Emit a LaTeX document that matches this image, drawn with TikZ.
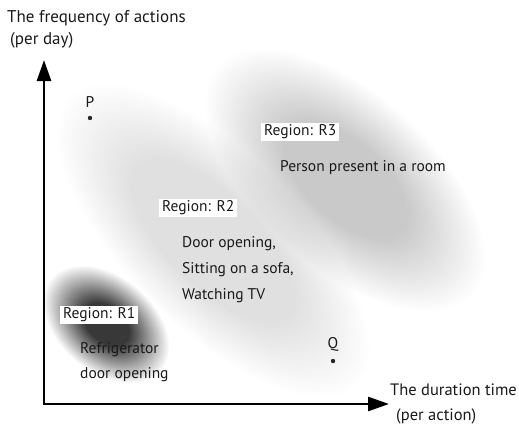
\documentclass[tikz,border=0pt]{standalone}
\usepackage{fontspec}
\setmainfont{PT Sans}
\usetikzlibrary{arrows.meta, positioning}

% colours of the blurred regions
\colorlet{blobone}{black!78}
\colorlet{blobtwo}{black!12}
\colorlet{blobthree}{black!21}
\pgfdeclareradialshading{shadeone}{\pgfpoint{0bp}{0bp}}{color(0bp)=(blobone); color(9bp)=(blobone); color(25bp)=(white); color(50bp)=(white)}
\pgfdeclareradialshading{shadetwo}{\pgfpoint{0bp}{0bp}}{color(0bp)=(blobtwo); color(13bp)=(blobtwo); color(25bp)=(white); color(50bp)=(white)}
\pgfdeclareradialshading{shadethree}{\pgfpoint{0bp}{0bp}}{color(0bp)=(blobthree); color(11bp)=(blobthree); color(25bp)=(white); color(50bp)=(white)}

\begin{document}
\begin{tikzpicture}[x=1pt, y=-1pt,
	lbl/.style={font=\fontsize{15.5}{18}\selectfont, text=black!90, inner sep=1pt},
	axlbl/.style={lbl, anchor=west, align=left, font=\fontsize{17}{22}\selectfont},
	region/.style={lbl, fill=white, inner xsep=3pt, inner ysep=2pt},
	>={Triangle[length=21pt,width=14pt]}]
	\useasboundingbox (0,0) rectangle (519,424);
	
	% Blurred regions
	\begin{scope}[transform canvas={shift={(213,240)}, rotate=-45}]
		\shade[shading=shadetwo, blend mode=multiply] (0,0) ellipse (205pt and 88pt);
	\end{scope}
	\begin{scope}[transform canvas={shift={(345,180)}, rotate=-42}]
		\shade[shading=shadethree, blend mode=multiply] (0,0) ellipse (172pt and 88pt);
	\end{scope}
	\begin{scope}[transform canvas={shift={(106,324)}, rotate=-40}]
		\shade[shading=shadeone, blend mode=multiply] (0,0) ellipse (72pt and 48pt);
	\end{scope}
	
	% Axes
	\coordinate (o) at (44,404);
	\coordinate (ytip) at (44,60);
	\coordinate (xtip) at (389,404);
	\draw[line width=2.8pt, <->] (ytip) -- (o) -- (xtip);
	\node[axlbl, font=\fontsize{17}{22}\selectfont] (ylab) at (6,29) {The frequency of actions\\\hspace{3pt}(per day)};
	\node[axlbl, font=\fontsize{16.5}{25}\selectfont] (xlab) at (389,404) {The duration time\\\hspace{6pt}(per action)};
	
	% Points P and Q
	\node[lbl] (p) at (90,102) {P};
	\coordinate (pdot) at (90,118);
	\fill[black!85] (pdot) circle (2.2pt);
	\node[lbl] (q) at (333,344) {Q};
	\coordinate (qdot) at (333,361);
	\fill[black!85] (qdot) circle (2.2pt);
	
	% Region labels
	\node[region, anchor=west] (r3) at (261,132) {Region: R3};
	\node[lbl, anchor=west] (r3txt) at (279,168) {Person present in a room};
	\node[region, anchor=west] (r2) at (159,208) {Region: R2};
	\node[lbl, anchor=north west, align=left, font=\fontsize{15.5}{26}\selectfont] (r2txt) at (181,235) {Door opening,\\Sitting on a sofa,\\Watching TV};
	\node[region, anchor=west] (r1) at (60,315) {Region: R1};
	\node[lbl, anchor=north west, align=left, font=\fontsize{15.5}{25}\selectfont] (r1txt) at (79,341) {Refrigerator\\door opening};
\end{tikzpicture}
\end{document}
